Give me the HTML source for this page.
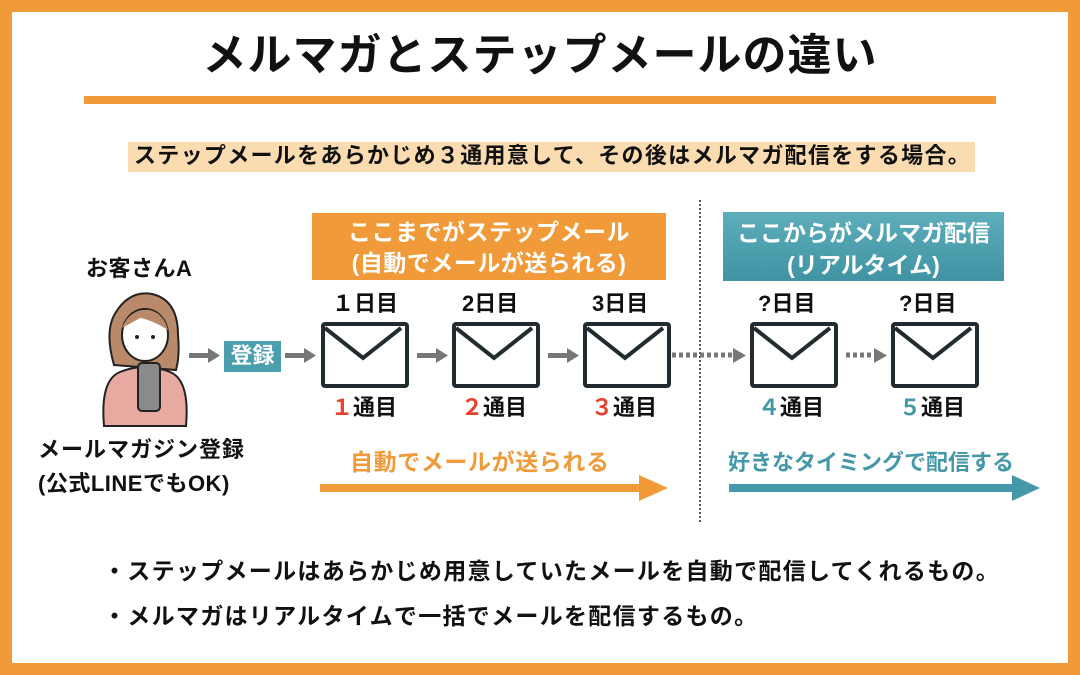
<!DOCTYPE html>
<html><head><meta charset="utf-8"><style>
body{margin:0;width:1080px;height:675px;overflow:hidden;font-family:"Liberation Sans","Noto Sans CJK JP",sans-serif;font-weight:bold}
.frame{position:absolute;left:0;top:0;width:1056px;height:651px;border:12px solid #f09a3a;background:#fff}
.t{position:absolute;white-space:nowrap;line-height:1}
.env{position:absolute;width:80px;height:58px;border:4px solid #222b30;border-radius:4px;box-sizing:content-box;background:#fff}
</style></head><body>
<div class="frame"></div>
<div class="t" style="left:0;width:1080px;text-align:center;top:34px;font-size:44px;letter-spacing:1px;color:#111">メルマガとステップメールの違い</div>
<div style="position:absolute;left:84px;top:96px;width:912px;height:8px;background:#f09a3a"></div>
<div style="position:absolute;left:128px;top:142px;width:847px;height:30px;background:#fbdcb0"></div>
<div class="t" style="left:134px;top:145px;font-size:22px;letter-spacing:1.3px;color:#111">ステップメールをあらかじめ３通用意して、その後はメルマガ配信をする場合。</div>

<div style="position:absolute;left:312px;top:213px;width:354px;height:67px;background:#f09a3a"></div>
<div class="t" style="left:312px;width:354px;text-align:center;top:217px;font-size:23px;letter-spacing:0.5px;color:#fff;line-height:31px">ここまでがステップメール<br>(自動でメールが送られる)</div>
<div style="position:absolute;left:723px;top:212px;width:281px;height:69px;background:linear-gradient(#5eaebb,#3f93a3)"></div>
<div class="t" style="left:723px;width:281px;text-align:center;top:217px;font-size:23px;color:#fff;line-height:32px">ここからがメルマガ配信<br>(リアルタイム)</div>
<div style="position:absolute;left:699px;top:200px;height:322px;border-left:2px dotted #555"></div>

<div class="t" style="left:86px;top:258px;font-size:22px;letter-spacing:0.5px;color:#111">お客さんA</div>
<svg style="position:absolute;left:100px;top:290px" width="90" height="138" viewBox="0 0 90 138">
<path d="M14 75 Q4 40 16 22 Q30 0 52 4 Q78 10 78 45 Q80 65 76 80 Z" fill="#b88a6a" stroke="#222" stroke-width="2"/>
<ellipse cx="45" cy="45" rx="23" ry="26" fill="#fff" stroke="#222" stroke-width="2"/>
<path d="M22 38 Q30 18 50 20 Q64 24 68 40 Q52 30 40 28 Z" fill="#b88a6a"/>
<path d="M4 136 Q0 90 20 82 Q45 72 70 82 Q90 90 86 136 Z" fill="#e8a9a0" stroke="#222" stroke-width="2"/>
<rect x="38" y="73" width="22" height="48" rx="4" fill="#8a8a8a" stroke="#222" stroke-width="2"/>
<circle cx="37" cy="47" r="2" fill="#222"/><circle cx="53" cy="47" r="2" fill="#222"/>
</svg>
<div class="t" style="left:38px;top:439px;font-size:22px;letter-spacing:1px;color:#111">メールマガジン登録</div>
<div class="t" style="left:38px;top:473px;font-size:22px;letter-spacing:0.5px;color:#111">(公式LINEでもOK)</div>

<svg style="position:absolute;left:0;top:0" width="1080" height="675">
<g fill="#777"><rect x="189" y="353" width="20" height="5"/><path d="M208 348 L220 355.5 L208 363Z"/>
<rect x="285" y="353" width="20" height="5"/><path d="M304 348 L316 355.5 L304 363Z"/>
<rect x="417" y="353" width="20" height="5"/><path d="M436 348 L448 355.5 L436 363Z"/>
<rect x="548" y="353" width="20" height="5"/><path d="M567 348 L579 355.5 L567 363Z"/>
<path d="M733 348 L746 355.5 L733 363Z"/><path d="M874 348 L887 355.5 L874 363Z"/></g>
<line x1="672" y1="355" x2="733" y2="355" stroke="#777" stroke-width="5" stroke-dasharray="4 3"/>
<line x1="846" y1="355" x2="874" y2="355" stroke="#777" stroke-width="5" stroke-dasharray="4 3"/>
<rect x="320" y="484" width="320" height="8" fill="#f09a3a"/><path d="M639 475 L668 488 L639 501Z" fill="#f09a3a"/>
<rect x="729" y="484" width="285" height="8" fill="#4598a8"/><path d="M1012 475 L1040 488 L1012 501Z" fill="#4598a8"/>
</svg>
<div style="position:absolute;left:224px;top:341px;width:57px;height:31px;background:#4a9eae"></div>
<div class="t" style="left:224px;width:57px;text-align:center;top:345px;font-size:22px;color:#fff">登録</div>
<div class="env" style="left:321px;top:322px"></div>
<div class="env" style="left:452px;top:322px"></div>
<div class="env" style="left:583px;top:322px"></div>
<div class="env" style="left:750px;top:322px"></div>
<div class="env" style="left:891px;top:322px"></div>
<svg style="position:absolute;left:0;top:0" width="1080" height="675"><g fill="none" stroke="#222b30" stroke-width="4">
<path d="M325 328 L363 358 L401 328"/><path d="M456 328 L494 358 L532 328"/><path d="M587 328 L625 358 L663 328"/><path d="M754 328 L792 358 L830 328"/><path d="M895 328 L933 358 L971 328"/></g></svg>

<div class="t" style="left:332px;top:293px;font-size:22px;color:#111">１日目</div>
<div class="t" style="left:462px;top:293px;font-size:22px;color:#111">2日目</div>
<div class="t" style="left:592px;top:293px;font-size:22px;color:#111">3日目</div>
<div class="t" style="left:758px;top:293px;font-size:22px;color:#111">?日目</div>
<div class="t" style="left:899px;top:293px;font-size:22px;color:#111">?日目</div>
<div class="t" style="left:331px;top:397px;font-size:22px;color:#111"><span style="color:#e8412c">１</span>通目</div>
<div class="t" style="left:461px;top:397px;font-size:22px;color:#111"><span style="color:#e8412c">２</span>通目</div>
<div class="t" style="left:591px;top:397px;font-size:22px;color:#111"><span style="color:#e8412c">３</span>通目</div>
<div class="t" style="left:758px;top:397px;font-size:22px;color:#111"><span style="color:#4598a8">４</span>通目</div>
<div class="t" style="left:899px;top:397px;font-size:22px;color:#111"><span style="color:#4598a8">５</span>通目</div>
<div class="t" style="left:350px;top:451px;font-size:23px;letter-spacing:0.6px;color:#f09a3a">自動でメールが送られる</div>
<div class="t" style="left:728px;top:452px;font-size:22px;color:#4598a8">好きなタイミングで配信する</div>
<div class="t" style="left:103px;top:560px;font-size:23px;letter-spacing:1.3px;color:#111">・ステップメールはあらかじめ用意していたメールを自動で配信してくれるもの。</div>
<div class="t" style="left:103px;top:605px;font-size:23px;letter-spacing:1.3px;color:#111">・メルマガはリアルタイムで一括でメールを配信するもの。</div>
</body></html>
